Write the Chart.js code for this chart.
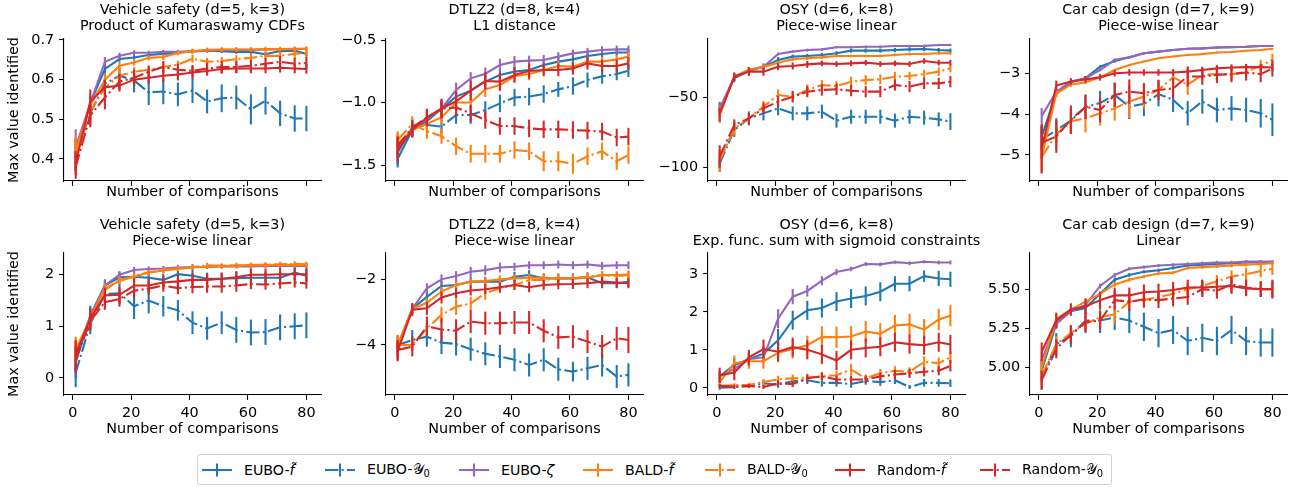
<!DOCTYPE html>
<html><head><meta charset="utf-8">
<script src="https://cdn.jsdelivr.net/npm/chart.js@4"></script>
<style>
html,body{margin:0;padding:0;background:#fff;}
body{width:1293px;height:487px;position:relative;overflow:hidden;font-family:'DejaVu Sans',sans-serif;color:#000;}
.ttl{position:absolute;font-size:14.4px;line-height:16px;text-align:center;white-space:nowrap;}
canvas{position:absolute;}
#legend{position:absolute;left:197px;top:454px;width:915px;height:31px;border:1px solid #d0d0d0;border-radius:3px;box-sizing:border-box;font-size:14.2px;background:#fff;}
.li{position:absolute;top:0;height:29px;display:flex;align-items:center;white-space:nowrap;}
.li svg{margin-right:12px;}
.li sub{font-size:70%;vertical-align:-3px;line-height:0;}
</style></head>
<body>
<script>
// ---------- data ----------
const steps = [1,6,11,16,21,26,31,36,41,46,51,56,61,66,71,76,80];
const xTicks = [0,20,40,60,80];
const xRange = [-3, 85];

// Panel 1: Vehicle safety / Product of Kumaraswamy CDFs
const p1_euboF = [0.41,0.54,0.627,0.652,0.656,0.662,0.665,0.668,0.671,0.673,0.672,0.670,0.670,0.664,0.672,0.673,0.665];
const p1_euboF_err = [0.04,0.02,0.012,0.007,0.006,0.006,0.005,0.005,0.005,0.005,0.005,0.005,0.005,0.006,0.005,0.005,0.006];
const p1_euboY = [0.41,0.515,0.59,0.61,0.598,0.568,0.57,0.563,0.573,0.545,0.553,0.555,0.525,0.547,0.515,0.502,0.502];
const p1_euboY_err = [0.04,0.03,0.025,0.02,0.03,0.032,0.032,0.03,0.032,0.03,0.035,0.03,0.038,0.035,0.032,0.033,0.032];
const p1_zeta = [0.43,0.54,0.645,0.66,0.668,0.668,0.67,0.67,0.672,0.673,0.675,0.675,0.675,0.676,0.676,0.677,0.678];
const p1_zeta_err = [0.045,0.02,0.012,0.008,0.006,0.005,0.005,0.005,0.005,0.004,0.004,0.004,0.004,0.004,0.004,0.004,0.004];
const p1_baldF = [0.42,0.535,0.60,0.635,0.643,0.655,0.657,0.667,0.672,0.675,0.676,0.676,0.676,0.677,0.677,0.678,0.678];
const p1_baldF_err = [0.04,0.02,0.015,0.01,0.008,0.007,0.007,0.006,0.006,0.006,0.006,0.006,0.006,0.006,0.006,0.006,0.006];
const p1_baldY = [0.41,0.52,0.58,0.61,0.62,0.625,0.632,0.638,0.653,0.645,0.647,0.652,0.655,0.66,0.66,0.665,0.668];
const p1_baldY_err = [0.04,0.025,0.02,0.015,0.012,0.01,0.01,0.01,0.01,0.01,0.01,0.01,0.01,0.01,0.01,0.012,0.012];
const p1_randF = [0.39,0.545,0.58,0.585,0.60,0.605,0.61,0.613,0.618,0.622,0.627,0.628,0.628,0.628,0.63,0.628,0.627];
const p1_randF_err = [0.03,0.03,0.02,0.015,0.015,0.015,0.015,0.015,0.015,0.012,0.012,0.012,0.012,0.012,0.012,0.012,0.012];
const p1_randY = [0.38,0.51,0.555,0.595,0.605,0.62,0.632,0.625,0.622,0.628,0.632,0.632,0.635,0.64,0.645,0.64,0.642];
const p1_randY_err = [0.03,0.03,0.03,0.02,0.02,0.015,0.015,0.015,0.015,0.015,0.015,0.015,0.015,0.015,0.015,0.015,0.015];
const p1_yTicks = [0.4,0.5,0.6,0.7];
const p1_yRange = [0.3445,0.7025];

// Panel 2: DTLZ2 / L1 distance
const p2_euboF = [-1.45,-1.22,-1.15,-1.05,-0.953,-0.905,-0.833,-0.78,-0.753,-0.74,-0.70,-0.673,-0.655,-0.628,-0.612,-0.60,-0.60];
const p2_euboF_err = [0.07,0.05,0.05,0.05,0.05,0.05,0.05,0.05,0.04,0.04,0.04,0.04,0.04,0.035,0.035,0.03,0.03];
const p2_euboY = [-1.40,-1.20,-1.18,-1.193,-1.10,-1.10,-1.06,-1.007,-0.96,-0.953,-0.932,-0.895,-0.868,-0.82,-0.79,-0.772,-0.745];
const p2_euboY_err = [0.1,0.07,0.06,0.06,0.07,0.07,0.07,0.07,0.07,0.07,0.07,0.06,0.07,0.06,0.06,0.05,0.05];
const p2_zeta = [-1.35,-1.22,-1.13,-1.05,-0.90,-0.807,-0.77,-0.70,-0.673,-0.665,-0.66,-0.633,-0.607,-0.593,-0.58,-0.575,-0.575];
const p2_zeta_err = [0.1,0.06,0.06,0.06,0.06,0.05,0.05,0.05,0.045,0.04,0.04,0.035,0.03,0.03,0.03,0.03,0.03];
const p2_baldF = [-1.33,-1.22,-1.17,-1.12,-1.0,-1.0,-0.895,-0.86,-0.79,-0.772,-0.74,-0.708,-0.713,-0.673,-0.673,-0.655,-0.633];
const p2_baldF_err = [0.08,0.05,0.06,0.06,0.06,0.06,0.06,0.05,0.05,0.05,0.04,0.04,0.04,0.04,0.04,0.04,0.04];
const p2_baldY = [-1.30,-1.17,-1.23,-1.27,-1.35,-1.41,-1.41,-1.41,-1.38,-1.39,-1.47,-1.47,-1.49,-1.43,-1.39,-1.47,-1.42];
const p2_baldY_err = [0.07,0.06,0.06,0.06,0.07,0.07,0.07,0.07,0.07,0.07,0.08,0.08,0.08,0.07,0.07,0.07,0.07];
const p2_randF = [-1.38,-1.22,-1.12,-1.05,-0.99,-0.905,-0.828,-0.833,-0.78,-0.748,-0.74,-0.74,-0.727,-0.687,-0.708,-0.708,-0.687];
const p2_randF_err = [0.1,0.06,0.07,0.08,0.08,0.08,0.07,0.07,0.06,0.06,0.05,0.05,0.05,0.05,0.05,0.05,0.05];
const p2_randY = [-1.35,-1.20,-1.12,-1.05,-1.04,-1.087,-1.14,-1.188,-1.188,-1.207,-1.215,-1.215,-1.22,-1.225,-1.233,-1.28,-1.273];
const p2_randY_err = [0.08,0.06,0.06,0.07,0.07,0.07,0.07,0.07,0.07,0.07,0.07,0.07,0.07,0.07,0.07,0.07,0.07];
const p2_yTicks = [-1.5,-1.0,-0.5];
const p2_yRange = [-1.628,-0.492];

// Panel 3: OSY / Piece-wise linear
const p3_euboF = [-58,-36,-31,-28,-23,-20.7,-20.2,-19.5,-18.3,-16.4,-16.4,-16.4,-16,-15.5,-15.2,-16,-16.4];
const p3_euboF_err = [5,3,3,2.5,2,1.5,1.5,1.5,1.5,1.5,1.5,1.5,1.5,1.5,1.5,1.5,1.5];
const p3_euboY = [-97,-73,-64.8,-61.2,-57.6,-61.2,-61.2,-60,-66.4,-63.6,-63.6,-63.6,-66.4,-63.6,-64.3,-65.5,-67.1];
const p3_euboY_err = [6,5,5,5,5,5,5,5,5,5,5,5,5,5,5,5,6];
const p3_zeta = [-58,-35,-30.2,-27.9,-18.8,-17.1,-16,-15.5,-14,-14,-13.6,-13.6,-13.1,-13.1,-13,-12.4,-12.4];
const p3_zeta_err = [4,2.5,2,1.5,1,1,1,0.8,0.8,0.8,0.8,0.8,0.8,0.8,0.8,0.8,0.8];
const p3_baldF = [-62,-35,-30,-28,-25,-22.6,-21.9,-21.2,-20.2,-20.2,-20.2,-20.2,-19.5,-18.8,-18.8,-18.3,-18.3];
const p3_baldF_err = [6,2.5,2,1.5,1.2,1.2,1.2,1,1,1,1,1,1,1,1,1,1];
const p3_baldY = [-95,-72,-64.8,-56.4,-48.1,-49.3,-44.5,-41,-41.7,-38.6,-37.4,-36.9,-35,-34.5,-33.1,-31.4,-29];
const p3_baldY_err = [8,5,4,4,4,4,4,3.5,3.5,3.5,3.5,3.5,3.5,3,3,3,3];
const p3_randF = [-62,-35,-31.4,-31.4,-27.9,-27.4,-26.2,-25.5,-26,-25.5,-25,-26,-25.5,-26,-23.8,-25,-25];
const p3_randF_err = [5,3,3,3,2.5,2.5,2.5,2,2,2,2,2,2,2,2,2,2];
const p3_randY = [-92,-69.5,-64.8,-57.6,-52.9,-49.3,-45.7,-44.5,-44,-45,-45.7,-45.7,-41,-42.1,-39.8,-39.8,-38.6];
const p3_randY_err = [8,4,4,4,4,4,4,4,4,4,4,4,4,4,4,4,4];
const p3_yTicks = [-100,-50];
const p3_yRange = [-109.5,-8.1];

// Panel 4: Car cab design / Piece-wise linear
const p4_euboF = [-4.55,-3.48,-3.22,-3.12,-2.84,-2.70,-2.61,-2.51,-2.47,-2.43,-2.40,-2.39,-2.37,-2.36,-2.35,-2.33,-2.33];
const p4_euboF_err = [0.3,0.08,0.05,0.05,0.04,0.04,0.03,0.03,0.02,0.02,0.02,0.02,0.02,0.02,0.02,0.02,0.02];
const p4_euboY = [-4.62,-4.40,-4.16,-3.83,-3.73,-3.53,-3.82,-3.75,-3.51,-3.65,-3.98,-3.69,-3.90,-3.86,-3.90,-3.98,-4.14];
const p4_euboY_err = [0.3,0.3,0.3,0.3,0.3,0.3,0.3,0.3,0.3,0.3,0.3,0.3,0.3,0.3,0.3,0.35,0.4];
const p4_zeta = [-4.05,-3.45,-3.2,-3.12,-2.92,-2.67,-2.61,-2.51,-2.47,-2.43,-2.40,-2.39,-2.37,-2.36,-2.35,-2.33,-2.33];
const p4_zeta_err = [0.2,0.08,0.05,0.04,0.03,0.03,0.02,0.02,0.02,0.02,0.02,0.02,0.02,0.02,0.02,0.02,0.02];
const p4_baldF = [-5.05,-3.5,-3.28,-3.22,-3.1,-2.92,-2.80,-2.71,-2.63,-2.59,-2.55,-2.53,-2.49,-2.48,-2.45,-2.43,-2.40];
const p4_baldF_err = [0.3,0.08,0.05,0.04,0.03,0.03,0.02,0.02,0.02,0.02,0.02,0.02,0.02,0.02,0.02,0.02,0.02];
const p4_baldY = [-5.05,-4.5,-4.18,-4.1,-3.98,-3.86,-3.69,-3.57,-3.41,-3.1,-3.28,-3.04,-3.02,-3.03,-2.96,-2.82,-2.67];
const p4_baldY_err = [0.4,0.35,0.3,0.35,0.3,0.3,0.4,0.3,0.25,0.2,0.25,0.15,0.15,0.15,0.15,0.15,0.15];
const p4_randF = [-4.85,-3.3,-3.2,-3.15,-3.1,-3.0,-2.98,-2.98,-2.98,-2.98,-2.96,-2.92,-2.88,-2.86,-2.85,-2.85,-2.86];
const p4_randF_err = [0.6,0.12,0.08,0.08,0.08,0.08,0.08,0.08,0.08,0.08,0.08,0.08,0.08,0.08,0.08,0.08,0.08];
const p4_randY = [-4.7,-4.55,-4.14,-3.82,-3.9,-3.53,-3.45,-3.49,-3.41,-3.37,-3.08,-3.08,-3.04,-3.02,-2.98,-3.02,-2.88];
const p4_randY_err = [0.4,0.4,0.35,0.3,0.3,0.3,0.3,0.25,0.25,0.25,0.25,0.2,0.2,0.2,0.2,0.2,0.2];
const p4_yTicks = [-5,-4,-3];
const p4_yRange = [-5.64,-2.16];

// Panel 5: Vehicle safety / Piece-wise linear
const p5_euboF = [0.3,1.2,1.79,1.95,1.96,1.94,1.90,2.01,1.98,1.92,1.92,1.93,1.94,1.94,1.94,2.04,1.98];
const p5_euboF_err = [0.3,0.2,0.12,0.1,0.12,0.12,0.12,0.12,0.12,0.12,0.12,0.12,0.12,0.12,0.12,0.12,0.12];
const p5_euboY = [0.1,1.05,1.63,1.64,1.39,1.50,1.39,1.31,1.07,0.96,1.07,0.93,0.88,0.89,0.98,1.0,1.02];
const p5_euboY_err = [0.28,0.2,0.2,0.2,0.25,0.25,0.2,0.2,0.22,0.22,0.22,0.25,0.25,0.25,0.25,0.25,0.25];
const p5_zeta = [0.4,1.2,1.79,2.0,2.09,2.11,2.12,2.14,2.15,2.15,2.16,2.16,2.16,2.17,2.17,2.17,2.17];
const p5_zeta_err = [0.3,0.15,0.1,0.07,0.06,0.05,0.05,0.05,0.05,0.04,0.04,0.04,0.04,0.04,0.04,0.04,0.04];
const p5_baldF = [0.55,1.15,1.73,1.88,1.96,2.04,2.08,2.11,2.14,2.16,2.17,2.17,2.19,2.19,2.19,2.19,2.19];
const p5_baldF_err = [0.25,0.15,0.1,0.07,0.06,0.05,0.05,0.04,0.04,0.04,0.04,0.04,0.04,0.04,0.04,0.04,0.04];
const p5_baldY = [0.5,1.1,1.7,1.9,1.97,2.05,2.09,2.12,2.15,2.18,2.17,2.18,2.18,2.19,2.2,2.21,2.2];
const p5_baldY_err = [0.25,0.15,0.1,0.07,0.06,0.05,0.05,0.05,0.05,0.05,0.05,0.05,0.05,0.05,0.05,0.05,0.05];
const p5_randF = [0.45,1.15,1.60,1.61,1.79,1.79,1.85,1.87,1.90,1.90,1.92,1.95,2.0,2.0,2.01,2.01,2.01];
const p5_randF_err = [0.28,0.2,0.15,0.15,0.15,0.13,0.13,0.13,0.13,0.12,0.12,0.12,0.12,0.12,0.12,0.12,0.12];
const p5_randY = [0.35,1.1,1.47,1.53,1.69,1.73,1.79,1.74,1.76,1.77,1.77,1.79,1.82,1.81,1.83,1.85,1.83];
const p5_randY_err = [0.25,0.18,0.15,0.15,0.13,0.12,0.12,0.12,0.12,0.12,0.12,0.12,0.1,0.1,0.1,0.1,0.1];
const p5_yTicks = [0,1,2];
const p5_yRange = [-0.33,2.42];

// Panel 6: DTLZ2 / Piece-wise linear
const p6_euboF = [-4.05,-2.9,-2.54,-2.21,-2.18,-2.08,-2.08,-2.08,-1.93,-1.88,-1.98,-1.98,-1.98,-1.95,-2.13,-2.13,-2.08];
const p6_euboF_err = [0.3,0.15,0.15,0.15,0.15,0.15,0.15,0.15,0.15,0.15,0.15,0.15,0.15,0.15,0.15,0.15,0.15];
const p6_euboY = [-4.0,-3.85,-3.75,-3.93,-3.97,-4.13,-4.27,-4.35,-4.45,-4.61,-4.45,-4.74,-4.81,-4.71,-4.61,-4.96,-4.91];
const p6_euboY_err = [0.3,0.3,0.3,0.35,0.35,0.35,0.35,0.35,0.35,0.35,0.35,0.35,0.3,0.35,0.35,0.35,0.35];
const p6_zeta = [-4.1,-2.9,-2.28,-2.01,-1.91,-1.78,-1.73,-1.65,-1.63,-1.58,-1.58,-1.56,-1.58,-1.56,-1.6,-1.58,-1.58];
const p6_zeta_err = [0.3,0.15,0.15,0.15,0.15,0.15,0.15,0.15,0.12,0.12,0.12,0.12,0.12,0.12,0.12,0.12,0.12];
const p6_baldF = [-4.0,-2.9,-2.72,-2.38,-2.18,-2.08,-2.06,-2.01,-1.98,-1.96,-1.96,-1.98,-1.98,-1.96,-1.88,-1.88,-1.86];
const p6_baldF_err = [0.3,0.15,0.15,0.15,0.12,0.12,0.12,0.12,0.12,0.12,0.12,0.12,0.12,0.12,0.12,0.12,0.12];
const p6_baldY = [-4.0,-4.0,-3.5,-3.09,-2.84,-2.74,-2.43,-2.28,-2.18,-2.03,-2.03,-1.98,-1.98,-1.93,-1.88,-1.91,-1.88];
const p6_baldY_err = [0.3,0.2,0.25,0.25,0.25,0.2,0.2,0.15,0.15,0.12,0.12,0.12,0.12,0.12,0.12,0.12,0.12];
const p6_randF = [-4.2,-2.93,-2.89,-2.56,-2.43,-2.35,-2.31,-2.25,-2.18,-2.25,-2.18,-2.16,-2.15,-2.13,-2.08,-2.11,-2.13];
const p6_randF_err = [0.3,0.2,0.2,0.18,0.15,0.15,0.15,0.15,0.15,0.15,0.15,0.15,0.15,0.15,0.15,0.15,0.15];
const p6_randY = [-4.15,-4.05,-3.44,-3.53,-3.57,-3.29,-3.34,-3.34,-3.32,-3.32,-3.57,-3.77,-3.75,-3.9,-4.05,-3.8,-3.85];
const p6_randY_err = [0.3,0.3,0.3,0.35,0.35,0.35,0.35,0.35,0.35,0.35,0.35,0.35,0.35,0.35,0.35,0.35,0.4];
const p6_yTicks = [-4,-2];
const p6_yRange = [-5.52,-1.21];

// Panel 7: OSY / Exp. func. sum with sigmoid constraints
const p7_euboF = [0.3,0.6,0.75,0.9,1.25,1.78,2.04,2.1,2.27,2.35,2.42,2.53,2.74,2.74,2.94,2.88,2.86];
const p7_euboF_err = [0.15,0.2,0.2,0.2,0.3,0.25,0.25,0.25,0.25,0.25,0.25,0.25,0.2,0.2,0.15,0.2,0.2];
const p7_euboY = [0.0,0.02,0.05,0.12,0.08,0.18,0.2,0.13,0.13,0.1,0.18,0.15,0.2,0.02,0.13,0.13,0.12];
const p7_euboY_err = [0.05,0.05,0.05,0.08,0.08,0.1,0.1,0.1,0.1,0.1,0.1,0.1,0.1,0.05,0.1,0.1,0.1];
const p7_zeta = [0.3,0.5,0.75,0.8,1.82,2.4,2.55,2.82,3.05,3.13,3.26,3.25,3.31,3.28,3.32,3.3,3.3];
const p7_zeta_err = [0.1,0.15,0.15,0.15,0.25,0.2,0.15,0.12,0.08,0.06,0.05,0.05,0.04,0.05,0.04,0.05,0.05];
const p7_baldF = [0.15,0.65,0.7,0.7,0.92,1.02,1.12,1.34,1.33,1.35,1.48,1.42,1.64,1.67,1.53,1.8,1.9];
const p7_baldF_err = [0.15,0.2,0.2,0.2,0.25,0.25,0.25,0.28,0.28,0.28,0.28,0.28,0.28,0.28,0.28,0.28,0.28];
const p7_baldY = [0.05,0.07,0.08,0.15,0.22,0.25,0.27,0.3,0.33,0.48,0.25,0.38,0.45,0.42,0.68,0.65,0.8];
const p7_baldY_err = [0.05,0.05,0.05,0.08,0.1,0.1,0.1,0.12,0.12,0.15,0.1,0.12,0.12,0.12,0.15,0.15,0.15];
const p7_randF = [0.33,0.4,0.8,1.02,0.95,1.07,1.0,0.88,0.72,1.0,1.05,1.08,1.2,1.15,1.12,1.2,1.14];
const p7_randF_err = [0.2,0.2,0.2,0.25,0.25,0.25,0.25,0.25,0.25,0.25,0.25,0.25,0.25,0.25,0.25,0.25,0.25];
const p7_randY = [0.05,0.03,0.05,0.02,0.12,0.1,0.25,0.3,0.22,0.22,0.22,0.3,0.35,0.38,0.42,0.45,0.58];
const p7_randY_err = [0.05,0.05,0.05,0.05,0.08,0.08,0.1,0.1,0.1,0.1,0.1,0.1,0.12,0.12,0.12,0.12,0.15];
const p7_yTicks = [0,1,2,3];
const p7_yRange = [-0.19,3.55];

// Panel 8: Car cab design / Linear
const p8_euboF = [4.98,5.28,5.36,5.38,5.47,5.56,5.59,5.61,5.62,5.635,5.65,5.655,5.66,5.665,5.67,5.67,5.67];
const p8_euboF_err = [0.07,0.03,0.02,0.02,0.015,0.015,0.012,0.01,0.01,0.01,0.01,0.01,0.01,0.01,0.01,0.01,0.01];
const p8_euboY = [4.93,5.15,5.20,5.30,5.30,5.32,5.30,5.26,5.22,5.24,5.17,5.19,5.17,5.24,5.17,5.16,5.16];
const p8_euboY_err = [0.07,0.07,0.07,0.08,0.08,0.08,0.08,0.09,0.09,0.09,0.09,0.09,0.09,0.09,0.09,0.09,0.09];
const p8_zeta = [5.05,5.28,5.36,5.40,5.52,5.59,5.63,5.64,5.65,5.655,5.66,5.665,5.67,5.67,5.675,5.675,5.675];
const p8_zeta_err = [0.05,0.03,0.02,0.015,0.015,0.012,0.01,0.01,0.01,0.01,0.01,0.01,0.01,0.01,0.01,0.01,0.01];
const p8_baldF = [5.0,5.31,5.37,5.42,5.47,5.53,5.56,5.58,5.60,5.605,5.635,5.64,5.645,5.65,5.655,5.66,5.665];
const p8_baldF_err = [0.06,0.03,0.02,0.02,0.015,0.015,0.012,0.01,0.01,0.01,0.01,0.01,0.01,0.01,0.01,0.01,0.01];
const p8_baldY = [4.95,5.15,5.22,5.28,5.32,5.34,5.42,5.43,5.45,5.47,5.50,5.52,5.55,5.58,5.595,5.615,5.63];
const p8_baldY_err = [0.06,0.05,0.05,0.05,0.05,0.06,0.05,0.05,0.04,0.04,0.04,0.04,0.04,0.04,0.04,0.04,0.04];
const p8_randF = [5.1,5.30,5.37,5.39,5.43,5.46,5.46,5.48,5.485,5.495,5.51,5.51,5.515,5.52,5.505,5.50,5.50];
const p8_randF_err = [0.06,0.05,0.04,0.05,0.05,0.05,0.05,0.05,0.05,0.05,0.05,0.05,0.05,0.05,0.05,0.05,0.06];
const p8_randY = [4.92,5.12,5.21,5.29,5.30,5.43,5.42,5.435,5.43,5.44,5.45,5.50,5.49,5.53,5.51,5.50,5.50];
const p8_randY_err = [0.06,0.06,0.06,0.06,0.06,0.06,0.06,0.05,0.05,0.05,0.05,0.05,0.05,0.05,0.05,0.05,0.05];
const p8_yTicks = [5.00,5.25,5.50];
const p8_yRange = [4.826,5.73];

const panelTitles = [
  ['Vehicle safety (d=5, k=3)', 'Product of Kumaraswamy CDFs'],
  ['DTLZ2 (d=8, k=4)', 'L1 distance'],
  ['OSY (d=6, k=8)', 'Piece-wise linear'],
  ['Car cab design (d=7, k=9)', 'Piece-wise linear'],
  ['Vehicle safety (d=5, k=3)', 'Piece-wise linear'],
  ['DTLZ2 (d=8, k=4)', 'Piece-wise linear'],
  ['OSY (d=6, k=8)', 'Exp. func. sum with sigmoid constraints'],
  ['Car cab design (d=7, k=9)', 'Linear']
];
const xAxisLabel = 'Number of comparisons';
const yAxisLabel = 'Max value identified';
const seriesKeys = ['EUBO-f', 'EUBO-Y0', 'EUBO-zeta', 'BALD-f', 'BALD-Y0', 'Random-f', 'Random-Y0'];
const legendHtml = ['EUBO-<i>f̃</i>', 'EUBO-<span class="cal">𝒴</span><sub>0</sub>', 'EUBO-<i>ζ</i>', 'BALD-<i>f̃</i>', 'BALD-<span class="cal">𝒴</span><sub>0</sub>', 'Random-<i>f̃</i>', 'Random-<span class="cal">𝒴</span><sub>0</sub>'];

// ---------- styles / layout ----------
const seriesColors = ['#1f77b4','#1f77b4','#9467bd','#ff7f0e','#ff7f0e','#d62728','#d62728'];
const seriesDashed = [false,true,false,false,true,false,true];
const DASH = [13.3,3.3,2.1,3.3];
const LW = 2.08;

const panels = [
  {s:[p1_euboF,p1_euboY,p1_zeta,p1_baldF,p1_baldY,p1_randF,p1_randY], e:[p1_euboF_err,p1_euboY_err,p1_zeta_err,p1_baldF_err,p1_baldY_err,p1_randF_err,p1_randY_err], t:p1_yTicks, r:p1_yRange, d:1},
  {s:[p2_euboF,p2_euboY,p2_zeta,p2_baldF,p2_baldY,p2_randF,p2_randY], e:[p2_euboF_err,p2_euboY_err,p2_zeta_err,p2_baldF_err,p2_baldY_err,p2_randF_err,p2_randY_err], t:p2_yTicks, r:p2_yRange, d:1},
  {s:[p3_euboF,p3_euboY,p3_zeta,p3_baldF,p3_baldY,p3_randF,p3_randY], e:[p3_euboF_err,p3_euboY_err,p3_zeta_err,p3_baldF_err,p3_baldY_err,p3_randF_err,p3_randY_err], t:p3_yTicks, r:p3_yRange, d:0},
  {s:[p4_euboF,p4_euboY,p4_zeta,p4_baldF,p4_baldY,p4_randF,p4_randY], e:[p4_euboF_err,p4_euboY_err,p4_zeta_err,p4_baldF_err,p4_baldY_err,p4_randF_err,p4_randY_err], t:p4_yTicks, r:p4_yRange, d:0},
  {s:[p5_euboF,p5_euboY,p5_zeta,p5_baldF,p5_baldY,p5_randF,p5_randY], e:[p5_euboF_err,p5_euboY_err,p5_zeta_err,p5_baldF_err,p5_baldY_err,p5_randF_err,p5_randY_err], t:p5_yTicks, r:p5_yRange, d:0},
  {s:[p6_euboF,p6_euboY,p6_zeta,p6_baldF,p6_baldY,p6_randF,p6_randY], e:[p6_euboF_err,p6_euboY_err,p6_zeta_err,p6_baldF_err,p6_baldY_err,p6_randF_err,p6_randY_err], t:p6_yTicks, r:p6_yRange, d:0},
  {s:[p7_euboF,p7_euboY,p7_zeta,p7_baldF,p7_baldY,p7_randF,p7_randY], e:[p7_euboF_err,p7_euboY_err,p7_zeta_err,p7_baldF_err,p7_baldY_err,p7_randF_err,p7_randY_err], t:p7_yTicks, r:p7_yRange, d:0},
  {s:[p8_euboF,p8_euboY,p8_zeta,p8_baldF,p8_baldY,p8_randF,p8_randY], e:[p8_euboF_err,p8_euboY_err,p8_zeta_err,p8_baldF_err,p8_baldY_err,p8_randF_err,p8_randY_err], t:p8_yTicks, r:p8_yRange, d:2}
];

const PLOT_LEFT = [64, 386, 708, 1030];
const PLOT_TOP = [39, 253];
const PLOT_W = 257, PLOT_H = 142;
const Y_W = 62, PAD_T = 16, PAD_R = 22;
const X_H = [20, 43];
const TITLE_TOP = [1, 215.5];
const FS = 14.4;

Chart.defaults.font.family = "'DejaVu Sans'";
Chart.defaults.font.size = FS;
Chart.defaults.color = '#000';

const fmt = (v, d) => v.toFixed(d).replace('-', '\u2212');

const errorBars = {
  id: 'errorBars',
  beforeDatasetDraw(chart, args) {
    const ds = chart.data.datasets[args.index];
    if (!ds.err) return;
    const ys = chart.scales.y, ca = chart.chartArea, ctx = chart.ctx;
    ctx.save();
    ctx.beginPath(); ctx.rect(ca.left, ca.top, ca.right - ca.left, ca.bottom - ca.top); ctx.clip();
    ctx.strokeStyle = ds.borderColor; ctx.lineWidth = LW; ctx.setLineDash([]); ctx.lineCap = 'butt';
    args.meta.data.forEach((pt, i) => {
      const v = ds.data[i].y, e = ds.err[i];
      ctx.beginPath();
      ctx.moveTo(pt.x, ys.getPixelForValue(v - e));
      ctx.lineTo(pt.x, ys.getPixelForValue(v + e));
      ctx.stroke();
    });
    ctx.restore();
  }
};

panels.forEach((p, k) => {
  const col = k % 4, row = Math.floor(k / 4);
  const W = Y_W + PLOT_W + PAD_R, H = PAD_T + PLOT_H + X_H[row];
  const cv = document.createElement('canvas');
  cv.width = W; cv.height = H;
  cv.style.left = (PLOT_LEFT[col] - Y_W) + 'px';
  cv.style.top = (PLOT_TOP[row] - PAD_T) + 'px';
  cv.style.width = W + 'px'; cv.style.height = H + 'px';
  document.body.appendChild(cv);

  const t = document.createElement('div');
  t.className = 'ttl';
  t.style.left = (PLOT_LEFT[col] + PLOT_W / 2 - 200) + 'px';
  t.style.width = '400px';
  t.style.top = TITLE_TOP[row] + 'px';
  t.innerHTML = panelTitles[k][0] + '<br>' + panelTitles[k][1];
  document.body.appendChild(t);

  const datasets = p.s.map((vals, i) => ({
    label: seriesKeys[i],
    data: steps.map((x, j) => ({x: x, y: vals[j]})),
    err: p.e[i],
    borderColor: seriesColors[i],
    backgroundColor: seriesColors[i],
    borderWidth: LW,
    borderDash: seriesDashed[i] ? DASH : [],
    pointRadius: 0,
    tension: 0,
    fill: false,
    order: 6 - i
  }));

  new Chart(cv, {
    type: 'line',
    data: {datasets},
    plugins: [errorBars],
    options: {
      responsive: false, animation: false, devicePixelRatio: 1,
      layout: {padding: {top: PAD_T, right: PAD_R, left: 0, bottom: 0}},
      plugins: {legend: {display: false}, tooltip: {enabled: false}, title: {display: false}},
      scales: {
        x: {
          type: 'linear', min: xRange[0], max: xRange[1],
          afterBuildTicks: ax => { ax.ticks = xTicks.map(v => ({value: v})); },
          afterFit: ax => { ax.height = X_H[row]; },
          grid: {display: true, drawOnChartArea: false, drawTicks: true, tickLength: 4.86, tickWidth: 1.1, tickColor: '#000'},
          border: {display: true, color: '#000', width: 1.1},
          ticks: {display: row === 1, padding: 5.0, maxRotation: 0, autoSkip: false, color: '#000', callback: v => fmt(v, 0)},
          title: {display: true, text: xAxisLabel, color: '#000', padding: {top: 0, bottom: 0}}
        },
        y: {
          type: 'linear', min: p.r[0], max: p.r[1],
          afterBuildTicks: ax => { ax.ticks = p.t.map(v => ({value: v})); },
          afterFit: ax => { ax.width = Y_W; },
          grid: {display: true, drawOnChartArea: false, drawTicks: true, tickLength: 4.86, tickWidth: 1.1, tickColor: '#000'},
          border: {display: true, color: '#000', width: 1.1},
          ticks: {padding: 5, autoSkip: false, color: '#000', callback: v => fmt(v, p.d)},
          title: {display: col === 0, text: yAxisLabel, color: '#000', padding: {top: 3.2, bottom: 0}}
        }
      }
    }
  });
});

// ---------- legend ----------
const legendLeft = [4, 127, 261, 385, 507, 637, 782];
const lg = document.createElement('div');
lg.id = 'legend';
seriesKeys.forEach((k, i) => {
  const it = document.createElement('div');
  it.className = 'li';
  it.style.left = legendLeft[i] + 'px';
  const dash = seriesDashed[i] ? ` stroke-dasharray="${DASH.join(',')}"` : '';
  it.innerHTML = `<svg width="30" height="16" viewBox="0 0 30 16"><line x1="0" y1="8" x2="30" y2="8" stroke="${seriesColors[i]}" stroke-width="${LW}"${dash}/><line x1="15" y1="1.5" x2="15" y2="14.5" stroke="${seriesColors[i]}" stroke-width="${LW}"/></svg><span>${legendHtml[i]}</span>`;
  lg.appendChild(it);
});
document.body.appendChild(lg);
</script>
</body></html>
